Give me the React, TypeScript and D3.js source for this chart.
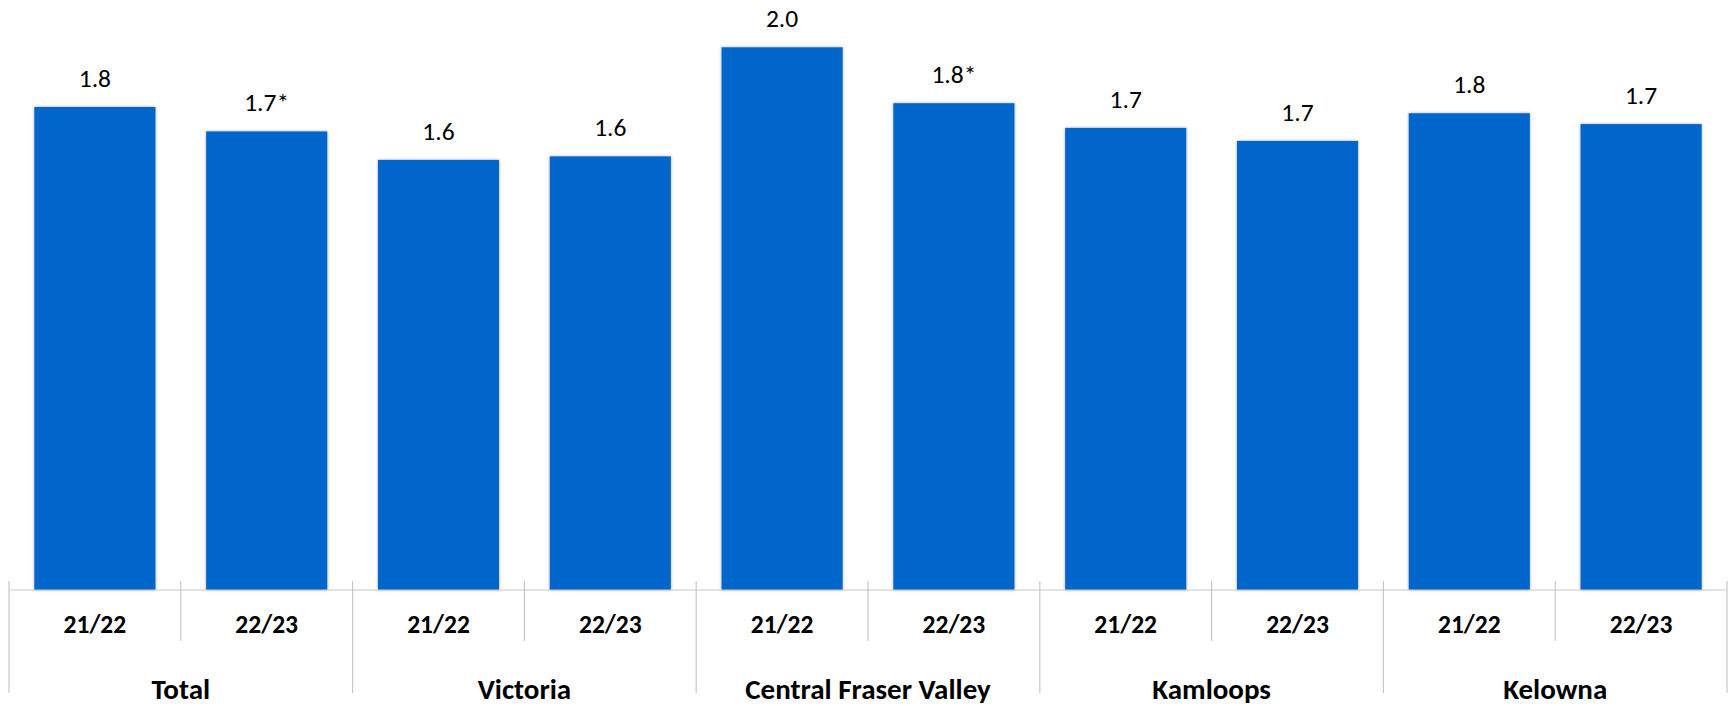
import React from "react";
import * as d3 from "d3";

const groups = ["Total", "Victoria", "Central Fraser Valley", "Kamloops", "Kelowna"];
const periods = ["21/22", "22/23"];
const values = [
  [1.78, 1.69],
  [1.585, 1.598],
  [2.0, 1.794],
  [1.703, 1.655],
  [1.757, 1.717],
];
const labels = [
  ["1.8", "1.7*"],
  ["1.6", "1.6"],
  ["2.0", "1.8*"],
  ["1.7", "1.7"],
  ["1.8", "1.7"],
];

const W = 1728;
const H = 706;
const left = 9;
const right = 1727;
const baseY = 590;
const FONT = "Carlito, Calibri, Lato, 'Open Sans', sans-serif";

export default function App() {
  const items = groups.flatMap((g, gi) =>
    periods.map((p, pi) => ({ key: `${g}-${p}`, g, p, gi, pi, v: values[gi][pi], label: labels[gi][pi] }))
  );
  const x = d3.scaleBand<string>().domain(items.map((d) => d.key)).range([left, right]).paddingInner(0).paddingOuter(0);
  const gx = d3.scaleBand<string>().domain(groups).range([left, right]);
  const y = d3.scaleLinear().domain([0, 2.0]).range([baseY, 47.3]);
  const bw = x.bandwidth() * 0.705;

  return (
    <svg width={W} height={H} style={{ position: "absolute", left: 0, top: 0 }}>
      <defs>
        <filter id="sh" x="-10%" y="-10%" width="120%" height="120%">
          <feDropShadow dx="0" dy="0" stdDeviation="1.6" floodColor="#000" floodOpacity="0.35" />
        </filter>
      </defs>
      <rect width={W} height={H} fill="#fff" />
      {items.map((d) => {
        const cx = (x(d.key) as number) + x.bandwidth() / 2;
        return (
          <g key={d.key}>
            <rect
              x={cx - bw / 2}
              y={y(d.v)}
              width={bw}
              height={baseY - y(d.v)}
              fill="#0366CC"
              filter="url(#sh)"
            />
            <text x={cx} y={y(d.v) - 20} textAnchor="middle" fontFamily={FONT} fontSize={25.5} fill="#000">
              {d.label}
            </text>
            <text x={cx} y={633} textAnchor="middle" fontFamily={FONT} fontSize={25.5} fontWeight="bold" fill="#000">
              {d.p}
            </text>
          </g>
        );
      })}
      <line x1={left} x2={right} y1={baseY} y2={baseY} stroke="#c8c8c8" strokeWidth={1.2} />
      {items.map((d) =>
        d.pi === 1 ? (
          <line key={"t" + d.key} x1={x(d.key) as number} x2={x(d.key) as number} y1={581} y2={641} stroke="#c8c8c8" strokeWidth={1.2} />
        ) : null
      )}
      {[...groups.map((g) => gx(g) as number), right].map((gxv, i) => (
        <line key={"gt" + i} x1={gxv} x2={gxv} y1={581} y2={693} stroke="#c8c8c8" strokeWidth={1.2} />
      ))}
      {groups.map((g) => (
        <text
          key={"gl" + g}
          x={(gx(g) as number) + gx.bandwidth() / 2}
          y={699}
          textAnchor="middle"
          fontFamily={FONT}
          fontSize={29}
          fontWeight="bold"
          fill="#000"
        >
          {g}
        </text>
      ))}
    </svg>
  );
}
